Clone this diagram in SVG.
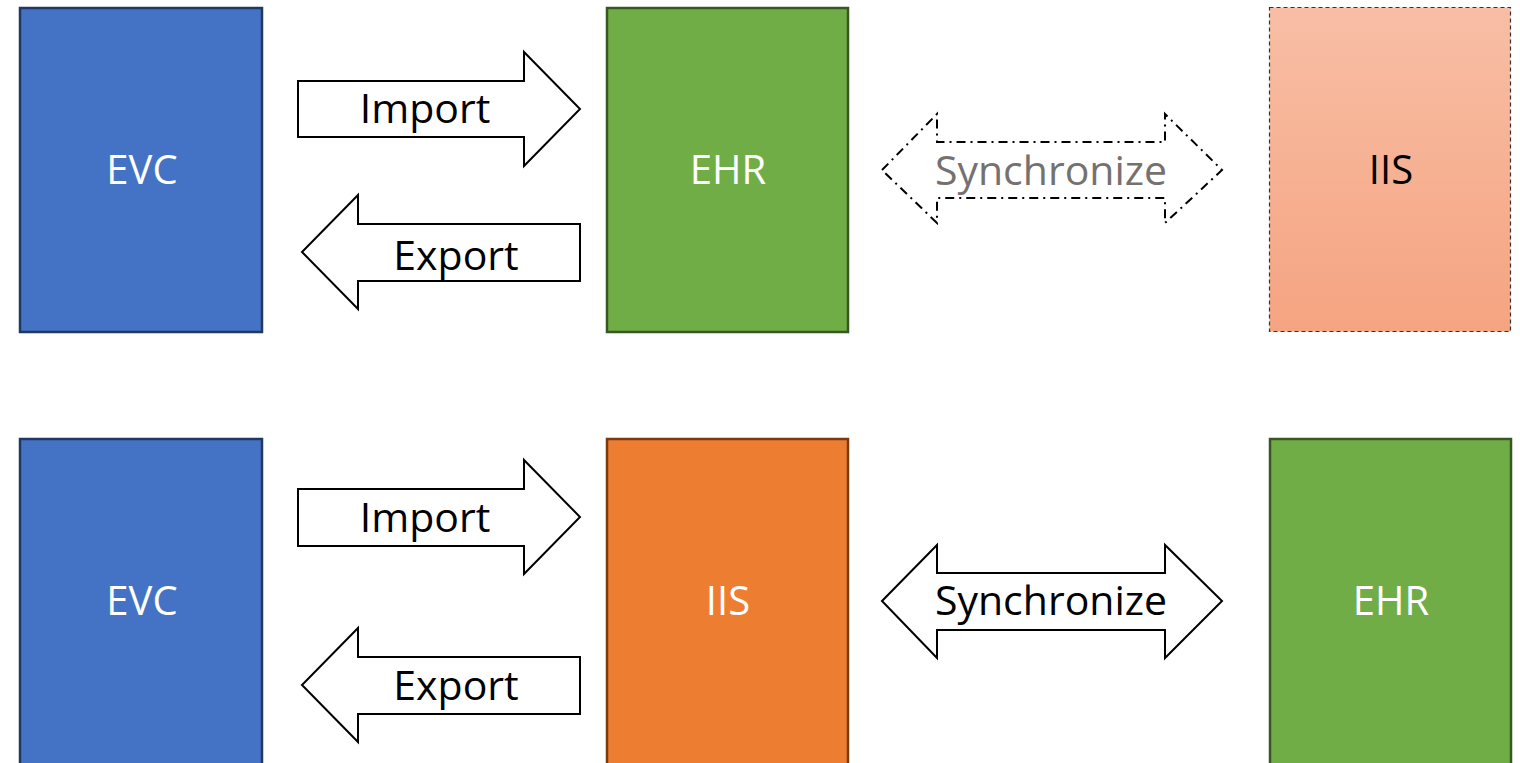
<svg xmlns="http://www.w3.org/2000/svg" width="1520" height="763" viewBox="0 0 1520 763">
  <style>
    .lbl { font-family: "Open Sans", "Liberation Sans", sans-serif; font-size: 40px; text-anchor: middle; }
    .arrow-lbl { font-family: "Open Sans", "Liberation Sans", sans-serif; font-size: 41px; text-anchor: middle; fill: #000; }
    .evc { fill: #4472C4; stroke: #203864; stroke-width: 2.5; }
    .ehr { fill: #70AD47; stroke: #385723; stroke-width: 2.5; }
    .iis { fill: #ED7D31; stroke: #7B3A0E; stroke-width: 2.5; }
    .iis-pending { fill: url(#iisFade); stroke: #333; stroke-width: 1.2; stroke-dasharray: 4 3; }
    .arrow { fill: #fff; stroke: #000; stroke-width: 2; stroke-linejoin: miter; }
    .arrow-pending { fill: #fff; stroke: #000; stroke-width: 2; stroke-dasharray: 9 5 2 5; }
    .white { fill: #fff; }
    .black { fill: #000; }
  </style>
  <defs>
    <linearGradient id="iisFade" x1="0" y1="0" x2="0" y2="1">
      <stop offset="0" stop-color="#F8BEA5"/>
      <stop offset="1" stop-color="#F5A481"/>
    </linearGradient>
  </defs>

  <rect width="1520" height="763" fill="#fff"/>

  <!-- Top row: EVC / EHR / IIS (planned) -->
  <g id="evc-top">
    <rect class="evc" x="20" y="8" width="242" height="324"/>
    <text class="lbl white" x="142" y="184">EVC</text>
  </g>
  <g id="ehr-top">
    <rect class="ehr" x="607" y="8" width="241" height="324"/>
    <text class="lbl white" x="728" y="184">EHR</text>
  </g>
  <g id="iis-top">
    <rect class="iis-pending" x="1269.5" y="7.5" width="241" height="324"/>
    <text class="lbl black" x="1391" y="184">IIS</text>
  </g>

  <!-- Bottom row: EVC / IIS / EHR -->
  <g id="evc-bottom">
    <rect class="evc" x="20" y="439" width="242" height="340"/>
    <text class="lbl white" x="142" y="615">EVC</text>
  </g>
  <g id="iis-bottom">
    <rect class="iis" x="607" y="439" width="241" height="340"/>
    <text class="lbl white" x="728" y="615">IIS</text>
  </g>
  <g id="ehr-bottom">
    <rect class="ehr" x="1270" y="439" width="241" height="340"/>
    <text class="lbl white" x="1391" y="615">EHR</text>
  </g>

  <!-- Connectors: block arrows -->
  <g id="connectors">
    <!-- top row -->
    <g id="import-top">
      <path class="arrow" d="M298,81 H524 V52 L580,109 L524,166 V137 H298 Z"/>
      <text class="arrow-lbl" x="425" y="123">Import</text>
    </g>
    <g id="export-top">
      <path class="arrow" d="M580,224 H358 V195 L302,252 L358,309 V281 H580 Z"/>
      <text class="arrow-lbl" x="456" y="270">Export</text>
    </g>
    <g id="sync-top">
      <path class="arrow-pending" d="M882,170 L937,114 V142 H1165 V114 L1222,170 L1165,223 V198 H937 V223 Z"/>
      <text class="arrow-lbl" x="1051" y="185" fill="#767171" style="fill:#767171">Synchronize</text>
    </g>

    <!-- bottom row -->
    <g id="import-bottom">
      <path class="arrow" d="M298,489 H524 V460 L580,517 L524,574 V546 H298 Z"/>
      <text class="arrow-lbl" x="425" y="532">Import</text>
    </g>
    <g id="export-bottom">
      <path class="arrow" d="M580,657 H358 V628 L302,685 L358,742 V714 H580 Z"/>
      <text class="arrow-lbl" x="456" y="700">Export</text>
    </g>
    <g id="sync-bottom">
      <path class="arrow" d="M882,601 L937,545 V573 H1165 V545 L1222,601 L1165,658 V630 H937 V658 Z"/>
      <text class="arrow-lbl" x="1051" y="615">Synchronize</text>
    </g>
  </g>
</svg>
